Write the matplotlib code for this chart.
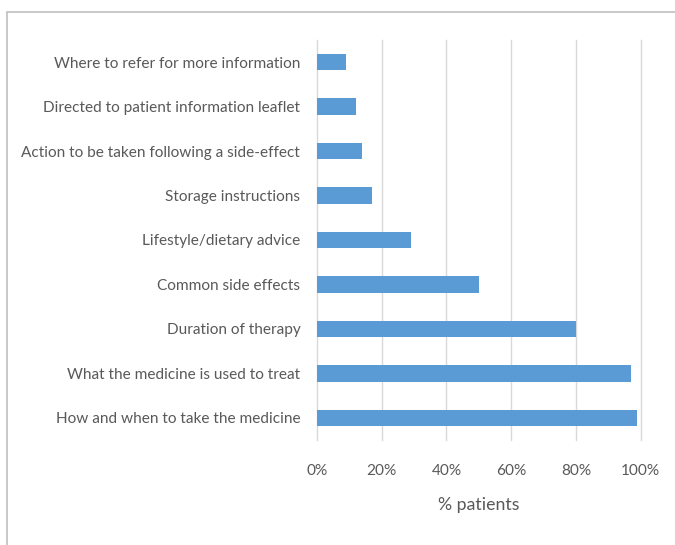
import matplotlib
matplotlib.use("Agg")
import matplotlib.pyplot as plt
from matplotlib.patches import Rectangle
from matplotlib.ticker import FuncFormatter, MultipleLocator

categories = [
    "How and when to take the medicine",
    "What the medicine is used to treat",
    "Duration of therapy",
    "Common side effects",
    "Lifestyle/dietary advice",
    "Storage instructions",
    "Action to be taken following a side-effect",
    "Directed to patient information leaflet",
    "Where to refer for more information",
]
values = [99, 97, 80, 50, 29, 17, 14, 12, 9]
xlabel = "% patients"

plt.rcParams['font.family'] = ['Lato', 'DejaVu Sans']

fig = plt.figure(figsize=(6.75, 5.45), dpi=100)
ax = fig.add_axes([317/675, 1-440/545, (640.7-317)/675, 400/545])

# pick label size so the longest label spans ~280 px as in the reference
renderer = fig.canvas.get_renderer()
t = fig.text(0, 0, "Action to be taken following a side-effect", fontsize=12)
w = t.get_window_extent(renderer).width
t.remove()
lab_size = 12 * 280 / w

ypos = list(range(len(categories)))
ax.barh(ypos, values, height=0.37, color="#5B9BD5", zorder=3)
ax.set_xlim(0, 100)
ax.set_ylim(-0.5, len(categories)-0.5)
ax.set_yticks(ypos)
ax.set_yticklabels(categories)
ax.xaxis.set_major_locator(MultipleLocator(20))
ax.xaxis.set_major_formatter(FuncFormatter(lambda v, p: f"{int(v)}%"))
ax.grid(axis="x", color="#D9D9D9", linewidth=1, zorder=0)
for gl in ax.get_xgridlines():
    gl.set_clip_on(False)
for s in ax.spines.values():
    s.set_visible(False)
ax.tick_params(axis="both", length=0, labelsize=lab_size, labelcolor="#595959")
ax.tick_params(axis="y", pad=12)
ax.tick_params(axis="x", pad=17)
ax.set_xlabel(xlabel, fontsize=lab_size*1.15, color="#595959", labelpad=14)

fig.patches.append(Rectangle((6.5/675, -0.01), 1.0, 1-11.5/545+0.01,
                             transform=fig.transFigure, fill=False,
                             edgecolor="#BFBFBF", linewidth=1.2))

fig.savefig("out.png", dpi=100, facecolor="white")
